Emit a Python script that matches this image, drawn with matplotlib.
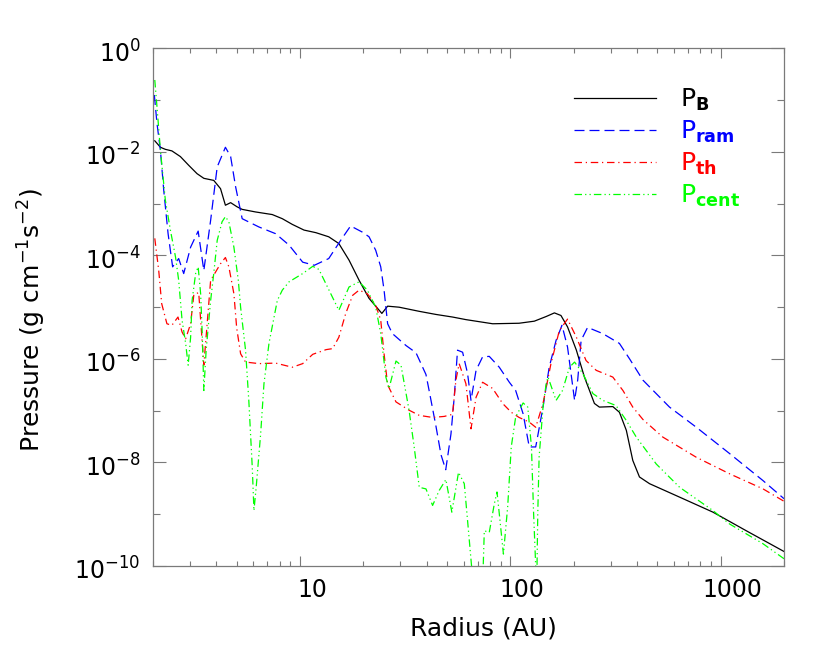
import numpy as np
import matplotlib
matplotlib.use("Agg")
import matplotlib.pyplot as plt
from matplotlib.ticker import FixedLocator, FuncFormatter, NullFormatter
import matplotlib.transforms as mtransforms

plt.rcParams['font.family'] = 'DejaVu Sans'
plt.rcParams['mathtext.default'] = 'regular'

# radius (AU) and log10 pressure (g cm^-1 s^-2)
r_b = [2.04, 2.17, 2.29, 2.46, 2.70, 2.96, 3.24, 3.49, 3.89, 4.19, 4.42, 4.68, 5.02, 5.31, 6.15,
       7.38, 8.24, 9.19, 10.45, 11.9, 13.7, 15.3, 17.1, 19.1, 21.3, 24.5, 26.1, 29.6, 36.9, 44.3,
       53.1, 61.5, 82.4, 110, 130, 148, 162, 174, 187, 206, 225, 251, 265, 307, 330,
       356, 382, 411, 459, 638, 919, 1324, 2000]
lp_b = [-1.785, -1.91, -1.95, -1.98, -2.09, -2.26, -2.42, -2.51, -2.55, -2.71, -3.03, -2.98, -3.06, -3.11, -3.16,
        -3.21, -3.29, -3.40, -3.51, -3.56, -3.64, -3.77, -4.09, -4.48, -4.83, -5.12, -4.98, -5.00, -5.08, -5.14,
        -5.19, -5.24, -5.32, -5.31, -5.27, -5.18, -5.11, -5.16, -5.38, -5.83, -6.35, -6.86, -6.93, -6.92, -7.03,
        -7.38, -7.96, -8.28, -8.41, -8.67, -8.96, -9.32, -9.72]

r_ram = [2.03, 2.09, 2.17, 2.25, 2.36, 2.48, 2.65, 2.80, 3.02, 3.28, 3.49, 3.76, 4.04, 4.42, 4.68,
         4.94, 5.31, 6.38, 7.66, 8.87, 10.3, 11.7, 13.7, 15.6, 17.4, 19.8, 21.3, 22.9, 24.2, 25.1,
         26.1, 27.5, 31.9, 35.6, 39.7, 41.1, 44.3, 46.8, 49.3, 52.2, 54.1, 56.1, 59.3, 62.6, 65.0,
         68.7, 73.8, 79.4, 88.6, 98.9, 106, 115, 123, 132, 143, 153, 165, 176, 187, 202,
         209, 217, 233, 275, 330, 369, 427, 571, 766, 1104, 1589, 2000]
lp_ram = [-0.90, -1.45, -1.97, -2.74, -3.58, -4.22, -4.06, -4.35, -3.84, -3.53, -4.29, -3.32, -2.29, -1.91, -2.09,
          -2.67, -3.29, -3.45, -3.58, -3.80, -4.13, -4.19, -4.06, -3.71, -3.43, -3.55, -3.64, -3.90, -4.22, -4.67,
          -5.32, -5.51, -5.74, -5.88, -6.30, -6.61, -7.30, -7.85, -8.14, -7.45, -6.74, -5.83, -5.87, -6.28, -6.80,
          -6.22, -5.96, -5.95, -6.16, -6.45, -6.61, -7.06, -7.70, -7.70, -6.93, -6.16, -5.64, -5.35, -5.77, -6.80,
          -6.41, -5.64, -5.39, -5.51, -5.70, -6.00, -6.41, -6.93, -7.32, -7.83, -8.35, -8.70]

r_th = [2.04, 2.13, 2.20, 2.33, 2.46, 2.63, 2.75, 2.86, 3.02, 3.13, 3.30, 3.49, 3.76, 4.19, 4.42,
        4.59, 4.85, 5.00, 5.22, 5.51, 6.38, 7.66, 9.19, 10.3, 11.5, 13.3, 14.3, 15.3, 16.5, 17.8,
        19.1, 20.9, 22.9, 24.2, 25.1, 26.1, 28.6, 33.0, 36.9, 42.7, 48.5, 53.1, 55.1, 57.1, 61.5,
        65.0, 68.7, 73.8, 82.4, 91.9, 101, 110, 123, 132, 143, 156, 171, 187, 206, 229,
        256, 307, 343, 382, 427, 531, 766, 1104, 1589, 2000]
lp_th = [-3.67, -4.29, -4.93, -5.32, -5.35, -5.19, -5.48, -5.61, -5.32, -4.75, -4.72, -6.12, -4.48, -4.16, -4.04,
         -4.22, -4.74, -5.40, -5.90, -6.06, -6.09, -6.08, -6.16, -6.09, -5.91, -5.82, -5.80, -5.58, -5.12, -4.77,
         -4.67, -4.74, -4.96, -5.25, -5.90, -6.50, -6.83, -6.99, -7.09, -7.13, -7.11, -7.07, -6.41, -6.09, -6.48,
         -7.35, -6.74, -6.45, -6.57, -6.86, -7.03, -7.13, -7.22, -7.32, -6.86, -6.09, -5.45, -5.23, -5.58, -6.03,
         -6.22, -6.35, -6.61, -6.93, -7.17, -7.51, -7.90, -8.22, -8.51, -8.75]

r_cent = [2.04, 2.09, 2.17, 2.29, 2.42, 2.56, 2.65, 2.75, 2.86, 2.94, 3.02, 3.07, 3.19, 3.28, 3.37,
          3.43, 3.49, 3.58, 3.76, 3.89, 4.04, 4.26, 4.42, 4.59, 4.85, 5.09, 5.22, 5.51, 5.71, 5.93,
          6.04, 6.19, 6.50, 6.74, 7.12, 7.80, 8.24, 8.87, 10.3, 11.5, 12.3, 13.7, 15.3, 17.1, 19.1,
          20.9, 22.9, 24.2, 25.6, 26.5, 28.6, 30.2, 33.0, 34.9, 36.9, 39.7, 42.7, 45.9, 49.4, 52.7,
          56.7, 60.4, 62.6, 65.4, 67.4, 72.0, 74.3, 75.2, 79.4, 83.9, 86.4, 88.6, 92.7, 97.1, 101,
          106, 115, 121, 126, 129, 132, 133.5, 135, 137, 143, 148, 151, 165, 177, 191,
          202, 221, 247, 275, 318, 356, 397, 494, 638, 919, 1104, 1589, 2000]
lp_cent = [-0.61, -1.13, -1.97, -2.93, -3.51, -4.03, -4.48, -5.25, -5.70, -6.12, -5.58, -4.87, -4.35, -4.22, -4.74,
           -5.51, -6.61, -5.83, -4.87, -4.35, -3.71, -3.35, -3.25, -3.35, -3.84, -4.48, -5.00, -5.83, -6.80, -8.09,
           -8.93, -8.48, -7.45, -6.48, -5.70, -4.87, -4.67, -4.51, -4.35, -4.21, -4.27, -4.66, -5.06, -4.61, -4.51,
           -4.67, -5.00, -5.51, -6.35, -6.57, -6.04, -6.12, -6.99, -7.70, -8.48, -8.51, -8.83, -8.54, -8.33, -8.96,
           -8.19, -8.41, -9.12, -10.0, -10.6, -10.6, -10.0, -9.32, -9.35, -8.80, -8.57, -8.99, -9.77, -8.86, -7.70,
           -7.12, -6.85, -6.93, -7.70, -8.99, -10.0, -10.4, -8.99, -7.90, -6.93, -6.48, -6.35, -6.80, -6.61, -6.16,
           -6.06, -6.28, -6.67, -6.80, -6.90, -7.19, -7.51, -8.03, -8.48, -8.93, -9.19, -9.57, -9.86]

labels = ['P$_\\mathbf{B}$', 'P$_\\mathbf{ram}$', 'P$_\\mathbf{th}$', 'P$_\\mathbf{cent}$']
colors = ['black', '#0000ff', '#ff0000', '#00ff00']
styles = ['-', (0, (8, 4)), (0, (6, 3, 1, 3)), (0, (6, 2.5, 1, 2.5, 1, 2.5))]

fig = plt.figure(figsize=(8.3, 6.64), dpi=100)
ax = fig.add_axes([0.1843, 0.1476, 0.7603, 0.7795])

series = [(r_b, lp_b), (r_ram, lp_ram), (r_th, lp_th), (r_cent, lp_cent)]
handles = []
for (r, lp), c, ls, lab in zip(series, colors, styles, labels):
    h, = ax.plot(r, 10.0 ** np.array(lp), color=c, linestyle=ls, linewidth=0.9, label=lab)
    handles.append(h)

ax.set_xscale('log')
ax.set_yscale('log')
ax.set_xlim(2, 2000)
ax.set_ylim(1e-10, 1)

# ticks: labelled decades on x, every other decade on y
ax.xaxis.set_major_locator(FixedLocator([10, 100, 1000]))
ax.xaxis.set_major_formatter(FuncFormatter(lambda v, p: '%d' % round(v)))
minor_x = [m * 10.0 ** d for d in range(0, 4) for m in range(2, 10) if 2 <= m * 10.0 ** d <= 2000]
ax.xaxis.set_minor_locator(FixedLocator(minor_x))
ax.xaxis.set_minor_formatter(NullFormatter())

ax.yaxis.set_major_locator(FixedLocator([10.0 ** e for e in range(-10, 1, 2)]))
ax.yaxis.set_major_formatter(FuncFormatter(lambda v, p: '10$^{%d}$' % round(np.log10(v))))
ax.yaxis.set_minor_locator(FixedLocator([10.0 ** e for e in range(-9, 0, 2)]))
ax.yaxis.set_minor_formatter(NullFormatter())

axis_gray = '#7a7a7a'
for s in ax.spines.values():
    s.set_color(axis_gray)
    s.set_linewidth(0.9)
ax.tick_params(which='both', direction='in', top=True, right=True, color=axis_gray,
               labelsize=17, labelcolor='black', width=0.8)
ax.tick_params(axis='x', which='major', length=7, pad=9)
ax.tick_params(axis='x', which='minor', length=3.6)
ax.tick_params(axis='y', which='major', length=9.5, pad=9)
ax.tick_params(axis='y', which='minor', length=5)

offset = mtransforms.ScaledTranslation(12 / 100, 0, fig.dpi_scale_trans)
for lab in ax.get_xticklabels():
    lab.set_transform(lab.get_transform() + offset)
yoff = mtransforms.ScaledTranslation(0, -3 / 100, fig.dpi_scale_trans)
for lab in ax.get_yticklabels():
    lab.set_transform(lab.get_transform() + yoff)

ax.set_xlabel('Radius (AU)', fontsize=18)
ax.set_ylabel('Pressure (g cm$^{-1}$s$^{-2}$)', fontsize=18)
ax.xaxis.set_label_coords(0.523, -0.097)
ax.yaxis.set_label_coords(-0.166, 0.476)

leg = ax.legend(handles=handles, loc='upper left', bbox_to_anchor=(0.667, 0.925),
                frameon=False, fontsize=18, handlelength=3.3, handletextpad=0.95,
                labelspacing=0.22, borderpad=0, borderaxespad=0)
for txt, c in zip(leg.get_texts(), colors):
    txt.set_color(c)

fig.savefig('out.png', dpi=100)
